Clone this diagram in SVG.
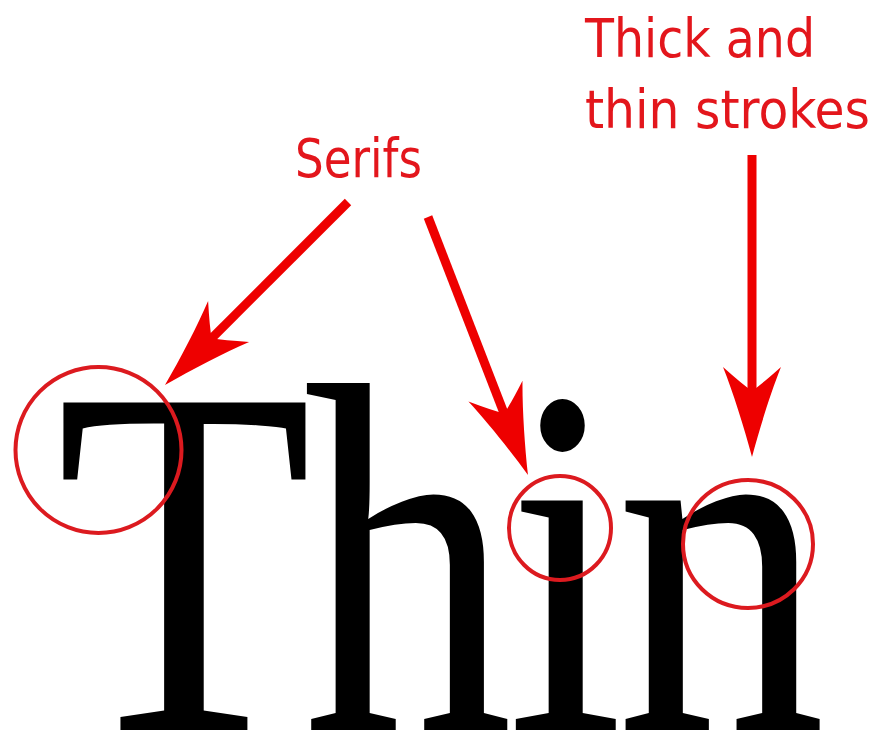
<svg xmlns="http://www.w3.org/2000/svg" width="880" height="737" viewBox="0 0 880 737">
<style>
.lbl{font-family:"DejaVu Sans Condensed","DejaVu Sans",sans-serif;font-stretch:condensed;font-size:54px;fill:#e3161c}
.word{font-family:"Liberation Serif","Times New Roman",serif;font-size:500px;fill:#000}
.ring{fill:none;stroke:#dc1a1f;stroke-width:4}
.arrow{fill:none;stroke:#ee0000;stroke-width:9;marker-end:url(#head)}
</style>
<defs>
<marker id="head" markerUnits="userSpaceOnUse" orient="auto" refX="-60" refY="0" markerWidth="10" markerHeight="10" overflow="visible">
<path d="M0,0 C-30,-8 -65,-19 -90,-29 Q-73,-10 -66,0 Q-73,10 -90,29 C-65,19 -30,8 0,0 Z" fill="#ee0000"/>
</marker>
</defs>
<rect width="880" height="737" fill="#fff"/>
<g id="word-thin">
<text class="word" transform="scale(0.84,1)" x="66.5 360.5 603.6 733.3" y="730">Thin</text>
</g>
<g id="label-serifs">
<text class="lbl" x="295" y="177" textLength="127" lengthAdjust="spacingAndGlyphs">Serifs</text>
</g>
<g id="label-strokes">
<text class="lbl" x="585" y="57" textLength="230" lengthAdjust="spacingAndGlyphs">Thick and</text>
<text class="lbl" x="585" y="128" textLength="285" lengthAdjust="spacingAndGlyphs">thin strokes</text>
</g>
<g id="circle-T"><ellipse class="ring" cx="98.5" cy="450" rx="83" ry="83"/></g>
<g id="circle-i"><ellipse class="ring" cx="560" cy="528" rx="51" ry="52"/></g>
<g id="circle-n"><ellipse class="ring" cx="748" cy="544" rx="65" ry="64"/></g>
<g id="connectors">
<line class="arrow" x1="348" y1="202" x2="207.4" y2="342.6"/>
<line class="arrow" x1="428" y1="217" x2="506.3" y2="419.1"/>
<line class="arrow" x1="752" y1="155" x2="752" y2="397"/>
</g>
</svg>
